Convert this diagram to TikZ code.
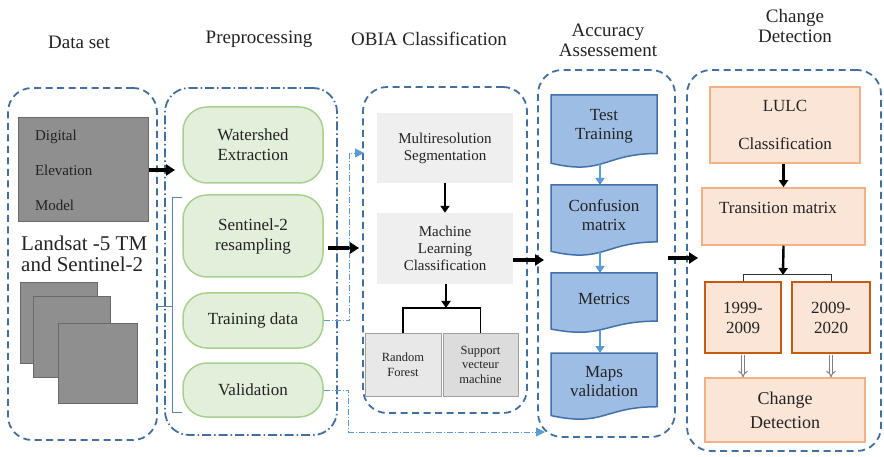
\documentclass[tikz,border=0pt]{standalone}
\usepackage{fontspec}
\setmainfont{Liberation Serif}
\usetikzlibrary{arrows.meta,calc}

\definecolor{grpc}{RGB}{66,110,160}
\definecolor{txtc}{RGB}{35,35,35}
\definecolor{demfill}{RGB}{143,143,143}
\definecolor{demdraw}{RGB}{105,105,105}
\definecolor{grfill}{RGB}{226,239,218}
\definecolor{grdraw}{RGB}{169,208,142}
\definecolor{obfill}{RGB}{239,239,239}
\definecolor{rffill}{RGB}{232,232,232}
\definecolor{svfill}{RGB}{220,220,220}
\definecolor{obdraw}{RGB}{160,160,160}
\definecolor{docfill}{RGB}{157,189,228}
\definecolor{docdraw}{RGB}{65,113,170}
\definecolor{arblue}{RGB}{91,155,213}
\definecolor{pcfill}{RGB}{251,229,214}
\definecolor{pcdraw}{RGB}{244,177,131}
\definecolor{yrdraw}{RGB}{197,90,17}

% box given by its corners: [style]{name}{x0}{y0}{x1}{y1}{text}
\newcommand\bx[7][]{%
  \pgfmathsetmacro\bxw{#5-#3}\pgfmathsetmacro\bxh{#6-#4}%
  \node[inner sep=0pt, minimum width=\bxw pt, minimum height=\bxh pt, #1]
    (#2) at ({(#3+#5)/2},{(#4+#6)/2}) {#7};}

% document shape with a wavy bottom: {name}{x0}{y0}{x1}{y1}{text}
\newcommand\docnode[6]{%
  \pgfmathsetmacro\docw{#4-#2}\pgfmathsetmacro\doch{#5-#3}%
  \draw[docshape] (#2,#3) -- (#4,#3) -- (#4,{#3+0.802*\doch})
    .. controls ({#2+0.5*\docw},{#3+0.802*\doch}) and ({#2+0.5*\docw},{#3+1.107*\doch})
    .. (#2,{#3+0.934*\doch}) -- cycle;
  \node[doctext] (#1) at ({(#2+#4)/2},{#3+0.43*\doch}) {#6};
  \coordinate (#1-b) at ({(#2+#4)/2-4},{#3+0.95*\doch});
  \coordinate (#1-t) at ({(#2+#4)/2-4},#3);}

\tikzset{
  title/.style={font=\fontsize{19}{20}\selectfont, align=center, text=txtc},
  grp/.style={draw=grpc, line width=1.8pt, rounded corners=24pt, dash pattern=on 7pt off 4.5pt},
  grpdd/.style={draw=grpc, line width=1.8pt, rounded corners=24pt, dash pattern=on 9pt off 3pt on 1.5pt off 3pt},
  graybox/.style={fill=demfill, draw=demdraw, line width=1pt},
  greenbox/.style={fill=grfill, draw=grdraw, line width=1.5pt, rounded corners=24pt,
    font=\fontsize{17}{20}\selectfont, align=center, text=txtc},
  obbox/.style={fill=obfill, font=\fontsize{15}{17}\selectfont, align=center, text=txtc},
  leafbox/.style={draw=obdraw, line width=1pt, font=\fontsize{12.5}{14.5}\selectfont, align=center, text=txtc},
  docshape/.style={fill=docfill, draw=docdraw, line width=1.5pt},
  doctext/.style={font=\fontsize{17}{19}\selectfont, align=center, text=txtc},
  peachbox/.style={fill=pcfill, draw=pcdraw, line width=1.5pt, font=\fontsize{17}{20}\selectfont,
    align=center, text=txtc},
  yearbox/.style={peachbox, draw=yrdraw, line width=2pt},
  bigarrow/.style={line width=3.2pt, black, -{Triangle[length=9pt,width=11pt]}},
  midarrow/.style={line width=2.4pt, black, -{Triangle[length=7pt,width=9pt]}},
  bluearrow/.style={line width=1.5pt, arblue, -{Triangle[length=7pt,width=9pt]}},
  bluedd/.style={line width=0.9pt, arblue, dash pattern=on 6pt off 2pt on 1pt off 2pt,
    -{Triangle[length=9pt,width=9pt]}},
  treeline/.style={line width=1.3pt, black},
  hollow/.style={draw=black!50, double=white, double distance=2.2pt, line width=1pt,
    -{Implies[length=5pt]}},
  bracket/.style={draw=grpc!85!white, line width=0.9pt},
}

\begin{document}
\begin{tikzpicture}[x=1pt,y=-1pt]
\useasboundingbox (0,0) rectangle (884,457);

% column titles
\node[title] (t1) at (79,42) {Data set};
\node[title] (t2) at (259,39) {Preprocessing};
\node[title] (t3) at (429,39) {OBIA Classification};
\node[title] (t4) at (608,40) {Accuracy\\Assessement};
\node[title] (t5) at (795,26) {Change\\Detection};

% dashed groups
\bx[grp]{g1}{8}{88}{157}{440}{}
\bx[grpdd]{g2}{165}{88}{337}{435}{}
\bx[grp]{g3}{363}{87}{527}{413}{}
\bx[grp]{g4}{538}{70}{675}{437}{}
\bx[grp]{g5}{687}{70}{881}{451}{}

% data set
\bx[graybox, text width=96pt, inner xsep=17pt, align=left, text=txtc,
    font=\fontsize{15}{35}\selectfont]{dem}{18}{118}{148}{222}{Digital\\Elevation\\Model}
\node[anchor=west, align=left, text=txtc, font=\fontsize{21}{21}\selectfont, inner sep=0pt]
  (lst) at (21,254) {Landsat -5 TM\\and Sentinel-2};
\bx[graybox]{sq1}{20}{283}{97}{363}{}
\bx[graybox]{sq2}{33}{297}{110}{377}{}
\bx[graybox]{sq3}{58}{323}{137}{403}{}

% preprocessing
\bx[greenbox]{ws}{183}{107}{323}{183}{Watershed\\Extraction}
\bx[greenbox]{s2}{183}{195}{323}{277}{Sentinel-2\\resampling}
\bx[greenbox]{td}{183}{293}{323}{348}{Training data}
\bx[greenbox]{val}{183}{363}{323}{417}{Validation}

% bracket grouping the Sentinel-2 inputs
\draw[bracket] ($(s2.north west)+(0,3)$) -- ++(-10,0) coordinate (bk1)
  -- ($(val.south west)+(-10,-5)$) -- ($(val.south west)+(0,-5)$);
\coordinate (bkm) at (173,306);
\draw[bracket] (bkm) -- (bkm -| g1.east);

% OBIA classification
\bx[obbox]{seg}{377}{113}{513}{183}{Multiresolution\\Segmentation}
\bx[obbox]{mlc}{377}{213}{513}{284}{Machine\\Learning\\Classification}
\bx[leafbox, fill=rffill]{rf}{365}{333}{441}{396}{Random\\Forest}
\bx[leafbox, fill=svfill]{svm}{443}{333}{518}{396}{Support\\vecteur\\machine}
\draw[midarrow] (seg.south) -- (mlc.north);
\coordinate (tj) at (446,308);
\draw[midarrow] (mlc.south -| tj) -- (tj);
\draw[treeline] (rf.north) -- (rf.north |- tj) -- (svm.north |- tj) -- (svm.north);

% accuracy assessment
\docnode{tt}{551}{95}{657}{168}{Test\\Training}
\docnode{cm}{551}{185}{657}{256}{Confusion\\matrix}
\docnode{mt}{551}{273}{657}{333}{Metrics}
\docnode{mv}{551}{353}{657}{420}{Maps\\validation}
\draw[bluearrow] (tt-b) -- (cm-t);
\draw[bluearrow] (cm-b) -- (mt-t);
\draw[bluearrow] (mt-b) -- (mv-t);

% change detection
\bx[peachbox, font=\fontsize{17}{38}\selectfont]{lulc}{710}{87}{860}{163}{LULC\\Classification}
\bx[peachbox]{tm}{702}{188}{865}{245}{}
\node[text=txtc, font=\fontsize{17}{20}\selectfont] (tml) at (778,208) {Transition matrix};
\bx[yearbox]{y1}{705}{282}{781}{353}{1999-\\2009}
\bx[yearbox]{y2}{792}{282}{870}{353}{2009-\\2020}
\bx[peachbox, font=\fontsize{18}{24}\selectfont]{cd}{705}{378}{865}{442}{Change\\Detection}
\draw[midarrow] (lulc.south -| tm.north) -- (tm.north);
\coordinate (tj2) at (783,275);
\draw[midarrow] (tm.south) -- (tj2);
\draw[line width=1pt, black!80] (y1.north) -- (y1.north |- tj2) -- (y2.north |- tj2) -- (y2.north);
\draw[hollow] ($(y1.south)+(0,1)$) -- (y1.south |- cd.north);
\draw[hollow] ($(y2.south)+(0,1)$) -- (y2.south |- cd.north);

% flow between the stages
\coordinate (demtip) at (175,170);
\draw[bigarrow] (dem.east) -- (demtip);
\coordinate (s2tip) at (359,248);
\draw[bigarrow] ($(s2.east)+(4,12)$) -- (s2tip);
\coordinate (mlctip) at (544,260);
\draw[bigarrow] ($(mlc.east)+(0,11.5)$) -- (mlctip);
\coordinate (acsrc) at (668,258);
\coordinate (actip) at (698,258);
\draw[bigarrow] (acsrc) -- (actip);

% sample data links
\coordinate (tdtip) at (364,153);
\draw[bluedd] (td.east) -- ++(26,0) |- (tdtip);
\coordinate (valtip) at (545,432);
\draw[bluedd] (val.east) -- ++(25,0) |- (valtip);
\end{tikzpicture}
\end{document}
